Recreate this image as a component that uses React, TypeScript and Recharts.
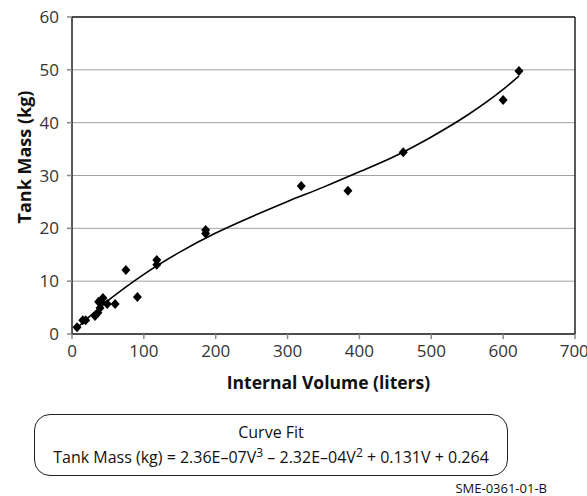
import { ComposedChart, Scatter, Line, XAxis, YAxis, ZAxis, CartesianGrid, ReferenceLine } from 'recharts';

// measured tanks
const tankVolumes = [7, 15, 19, 32, 36, 39, 37, 41, 43, 49, 60, 75, 91, 118, 118, 186, 186, 319, 384, 461, 600, 622];
const tankMasses = [1.3, 2.6, 2.6, 3.4, 4.0, 4.9, 6.1, 5.9, 6.8, 5.7, 5.7, 12.1, 7.0, 14.0, 13.1, 19.7, 19.0, 28.0, 27.1, 34.4, 44.3, 49.8];

// fitted curve
const fitVolumes = [5, 50, 100, 150, 200, 250, 300, 350, 400, 450, 500, 550, 600, 622];
const fitMasses = [0.9, 6.3, 11.3, 15.5, 19.1, 22.2, 25.1, 27.8, 30.7, 33.7, 37.3, 41.4, 46.3, 48.8];

const xTicks = [0, 100, 200, 300, 400, 500, 600, 700];
const yTicks = [0, 10, 20, 30, 40, 50, 60];

const tanks = tankVolumes.map((volume, i) => ({ volume, mass: tankMasses[i] }));
const fit = fitVolumes.map((volume, i) => ({ volume, mass: fitMasses[i] }));

const font = '"Open Sans", sans-serif';

const Diamond = (props: any) => {
  const { cx, cy } = props;
  return <path d={`M${cx},${cy - 5}L${cx + 4.5},${cy}L${cx},${cy + 5}L${cx - 4.5},${cy}Z`} fill="#000" />;
};

export default function App() {
  return (
    <div style={{ position: 'absolute', left: 0, top: 0, width: 587, height: 496, background: '#fff', fontFamily: font }}>
      <ComposedChart width={587} height={410} margin={{ top: 17, right: 12, bottom: 0, left: 0 }}>
        <CartesianGrid vertical={false} stroke="#a0a0a0" />
        <XAxis
          dataKey="volume"
          type="number"
          domain={[0, 700]}
          ticks={xTicks}
          height={76}
          stroke="#222"
          strokeWidth={1.5}
          tickLine={{ stroke: '#888' }}
          tickSize={5}
          tickMargin={6}
          tick={{ fill: '#333', fontSize: 17, fontFamily: font }}
          label={{ value: 'Internal Volume (liters)', position: 'insideBottom', offset: 21, dx: 5, fill: '#111', fontSize: 17.5, fontWeight: 700, fontFamily: font }}
        />
        <YAxis
          type="number"
          domain={[0, 60]}
          ticks={yTicks}
          width={72}
          stroke="#222"
          strokeWidth={1.5}
          tickLine={{ stroke: '#888' }}
          tickSize={5}
          tickMargin={8}
          tick={{ fill: '#333', fontSize: 17, fontFamily: font }}
          label={{
            content: () => (
              <text x={24} y={157} transform="rotate(-90 24 157)" textAnchor="middle" dominantBaseline="central" fill="#111" fontSize={18} fontWeight={700} fontFamily={font}>
                Tank Mass (kg)
              </text>
            ),
          }}
        />
        <ZAxis range={[60, 60]} />
        <ReferenceLine y={60} stroke="#222" strokeWidth={1.5} />
        <ReferenceLine x={700} stroke="#222" strokeWidth={1.5} />
        <Line data={fit} dataKey="mass" type="monotone" stroke="#000" strokeWidth={1.6} dot={false} isAnimationActive={false} />
        <Scatter data={tanks} dataKey="mass" shape={<Diamond />} isAnimationActive={false} />
      </ComposedChart>
      <div
        style={{
          position: 'absolute',
          left: 34,
          top: 414,
          width: 474,
          height: 62,
          border: '1.5px solid #222',
          borderRadius: 16,
          textAlign: 'center',
          fontSize: 16,
          color: '#111',
          lineHeight: '25px',
          paddingTop: 5,
          boxSizing: 'border-box',
        }}
      >
        <div>Curve Fit</div>
        <div>
          Tank Mass (kg) = 2.36E–07V<sup style={{ fontSize: 12, lineHeight: 0 }}>3</sup> – 2.32E–04V<sup style={{ fontSize: 12, lineHeight: 0 }}>2</sup> + 0.131V + 0.264
        </div>
      </div>
      <div style={{ position: 'absolute', right: 40, top: 479, fontSize: 13, color: '#111' }}>SME-0361-01-B</div>
    </div>
  );
}
